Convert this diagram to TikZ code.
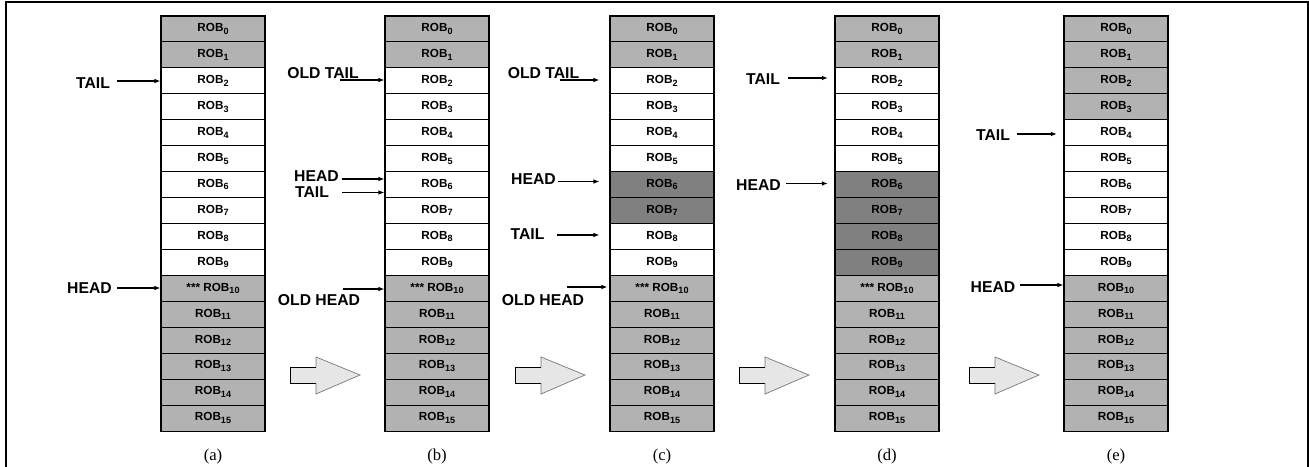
\documentclass[tikz,border=0pt]{standalone}
\usepackage{fontspec}
\setmainfont{Liberation Serif}
\setsansfont{Liberation Sans}
\usetikzlibrary{arrows.meta}
\definecolor{robold}{HTML}{B2B2B2}
\definecolor{robnew}{HTML}{808080}
\definecolor{movefill}{HTML}{E6E6E6}
\newcommand{\robsub}[1]{\raisebox{-0.22em}{\fontsize{6.8}{7}\selectfont #1}}
\begin{document}
\begin{tikzpicture}[x=0.75pt, y=-0.75pt,
	robcellw/.style={ draw, line width=0.8pt, fill=white, minimum width=78pt, minimum height=19.45pt, inner sep=0pt, font=\sffamily\bfseries\fontsize{8.8}{10}\selectfont },
	robcello/.style={ robcellw, fill=robold },
	robcelld/.style={ robcellw, fill=robnew },
	robcells/.style={ robcello, execute at begin node={***\ } },
	ptrlabel/.style={ inner sep=0pt, font=\sffamily\bfseries\fontsize{11.8}{12}\selectfont },
	ptr/.style={ -{Latex[length=4.5pt,width=3.5pt]}, line width=0.9pt },
	caption/.style={ inner sep=0pt, font=\rmfamily\fontsize{12.5}{14}\selectfont }
]

\useasboundingbox (0,0) rectangle (1309,467);
\draw[line width=0.8pt] (6,467) -- (6,2) -- (1308,2) -- (1308,467);

% the five ROB columns
\foreach \p/\x/\st in {
	a/161/{o,o,w,w,w,w,w,w,w,w,s,o,o,o,o,o},
	b/385/{o,o,w,w,w,w,w,w,w,w,s,o,o,o,o,o},
	c/610/{o,o,w,w,w,w,d,d,w,w,s,o,o,o,o,o},
	d/835/{o,o,w,w,w,w,d,d,d,d,s,o,o,o,o,o},
	e/1064/{o,o,o,o,w,w,w,w,w,w,o,o,o,o,o,o}} {
	\foreach \s [count=\i from 0] in \st
		\node at ({\x+52},{16+25.94*(\i+0.5)}) (\p\i) [robcell\s] {ROB\robsub{\i}};
	\node at ({\x+52},456) (cap\p) [caption] {(\p)};
}

% (a)
\node at (93,83) (aTail) [ptrlabel] {TAIL};
\coordinate (aTs) at (117,81);
\draw[ptr] (aTs) -- (aTs -| a2.west);
\node at (89.5,288) (aHead) [ptrlabel] {HEAD};
\coordinate (aHs) at (117,288);
\draw[ptr] (aHs) -- (aHs -| a10.west);

% (b)
\node at (323,73) (bOldTail) [ptrlabel] {OLD TAIL};
\coordinate (bOTs) at (340,80);
\draw[ptr] (bOTs) -- (bOTs -| b2.west);
\node at (316.5,176) (bHead) [ptrlabel] {HEAD};
\coordinate (bHs) at (342,179);
\draw[ptr] (bHs) -- (bHs -| b6.west);
\node at (312,192) (bTail) [ptrlabel] {TAIL};
\coordinate (bTs) at (342,192.5);
\draw[ptr] (bTs) -- (bTs -| b6.west);
\node at (319,300) (bOldHead) [ptrlabel] {OLD HEAD};
\coordinate (bOHs) at (343,289);
\draw[ptr] (bOHs) -- (bOHs -| b10.west);

% (c)
\node at (543.5,73) (cOldTail) [ptrlabel] {OLD TAIL};
\coordinate (cOTs) at (560,80);
\draw[ptr, shorten >=7.5pt] (cOTs) -- (cOTs -| c2.west);
\node at (533.5,179) (cHead) [ptrlabel] {HEAD};
\coordinate (cHs) at (558,181.5);
\draw[ptr, shorten >=7.5pt] (cHs) -- (cHs -| c6.west);
\node at (527.5,234) (cTail) [ptrlabel] {TAIL};
\coordinate (cTs) at (557,235);
\draw[ptr, shorten >=7.5pt] (cTs) -- (cTs -| c8.west);
\node at (543,300) (cOldHead) [ptrlabel] {OLD HEAD};
\coordinate (cOHs) at (567,287);
\draw[ptr, shorten >=1.5pt] (cOHs) -- (cOHs -| c10.west);

% (d)
\node at (763,79) (dTail) [ptrlabel] {TAIL};
\coordinate (dTs) at (788,78);
\draw[ptr, shorten >=5pt] (dTs) -- (dTs -| d2.west);
\node at (758.5,185) (dHead) [ptrlabel] {HEAD};
\coordinate (dHs) at (786,183.5);
\draw[ptr, shorten >=5pt] (dHs) -- (dHs -| d6.west);

% (e)
\node at (993,135) (eTail) [ptrlabel] {TAIL};
\coordinate (eTs) at (1017,134);
\draw[ptr, shorten >=5pt] (eTs) -- (eTs -| e4.west);
\node at (993,287) (eHead) [ptrlabel] {HEAD};
\coordinate (eHs) at (1020,285);
\draw[ptr] (eHs) -- (eHs -| e10.west);

% step arrows between the columns
\foreach \x in {290,515,739,969} {
	\fill[movefill] (\x,367) -- (\x+26,367) -- (\x+26,357) -- (\x+70,375) -- (\x+26,394) -- (\x+26,383) -- (\x,383) -- cycle;
	\draw[black!55, line width=0.5pt] (\x+26,367) -- (\x+26,357) -- (\x+70,375) -- (\x+26,394) -- (\x+26,383);
	\draw[line width=0.7pt] (\x+26,367) -- (\x,367) -- (\x,383) -- (\x+26,383);
}

\end{tikzpicture}
\end{document}
